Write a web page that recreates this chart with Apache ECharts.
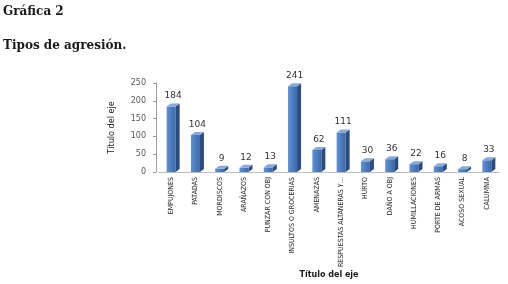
<!DOCTYPE html>
<html>
<head>
<meta charset="utf-8">
<script src="https://cdn.jsdelivr.net/npm/echarts@6/dist/echarts.min.js"></script>
<style>
  html, body { margin: 0; padding: 0; background: #fff; }
  #chart { width: 508px; height: 284px; }
</style>
</head>
<body>
<div id="chart"></div>
<script>
const categories = ['EMPUJONES', 'PATADAS', 'MORDISCOS', 'ARAÑAZOS', 'PUNZAR CON OBJ',
  'INSULTOS O GROCERIAS', 'AMENAZAS', 'RESPUESTAS ALTANERAS Y…', 'HURTO', 'DAÑO A OBJ',
  'HUMILLACIONES', 'PORTE DE ARMAS', 'ACOSO SEXUAL', 'CALUMNIA']
const values = [184, 104, 9, 12, 13, 241, 62, 111, 30, 36, 22, 16, 8, 33]
const yTicks = [0, 50, 100, 150, 200, 250]

const narrow = '"Liberation Sans Narrow", "DejaVu Sans Condensed", "Liberation Sans"'

let myChart = echarts.init(document.getElementById('chart'))

// 3D-looking column: front face, side and top
function renderBar(params, api) {
  let top = api.coord([api.value(0), api.value(1)])
  let base = api.coord([api.value(0), 0])
  let w = 9, d = 4, h = 3
  let x0 = top[0] - w / 2, x1 = top[0] + w / 2
  let yt = top[1], yb = base[1]
  return {
    type: 'group',
    children: [
      {
        type: 'rect',
        shape: { x: x0, y: yt, width: w, height: yb - yt },
        style: {
          fill: new echarts.graphic.LinearGradient(0, 0, 1, 0, [
            { offset: 0, color: '#5e90d2' },
            { offset: 1, color: '#3c6aab' }
          ])
        }
      },
      {
        type: 'polygon',
        shape: { points: [[x1, yt], [x1 + d, yt - h], [x1 + d, yb - h], [x1, yb]] },
        style: { fill: '#2b4c80' }
      },
      {
        type: 'polygon',
        shape: { points: [[x0, yt], [x0 + d, yt - h], [x1 + d, yt - h], [x1, yt]] },
        style: { fill: '#86aadc' }
      },
      {
        type: 'text',
        style: {
          text: String(api.value(1)),
          x: top[0] + 2,
          y: yt - h - 3,
          align: 'center',
          verticalAlign: 'bottom',
          fill: '#333',
          font: '9px "DejaVu Sans"'
        }
      }
    ]
  }
}

let option = {
  backgroundColor: '#fff',
  animation: false,
  title: [
    {
      text: 'Gráfica 2',
      left: 3, top: 6, padding: 0,
      textStyle: { fontFamily: 'DejaVu Serif', fontWeight: 'bold', fontSize: 12, color: '#1a1a1a' }
    },
    {
      text: 'Tipos de agresión.',
      left: 3, top: 40, padding: 0,
      textStyle: { fontFamily: 'DejaVu Serif', fontWeight: 'bold', fontSize: 12, color: '#1a1a1a' }
    }
  ],
  grid: { left: 159, right: 9, top: 83, bottom: 112, outerBoundsMode: 'none', containLabel: false },
  xAxis: {
    type: 'category',
    data: categories,
    name: 'Título del eje',
    nameLocation: 'middle',
    nameGap: 78,
    nameTextStyle: { fontFamily: 'DejaVu Sans', fontWeight: 'bold', fontSize: 8, color: '#1a1a1a' },
    axisLine: { lineStyle: { color: '#bfbfbf' } },
    axisTick: { show: false },
    axisLabel: {
      interval: 0,
      rotate: 90,
      margin: 5,
      fontFamily: narrow,
      fontSize: 7,
      color: '#262626'
    }
  },
  yAxis: {
    type: 'value',
    min: 0,
    max: 250,
    interval: 50,
    offset: 3,
    name: 'Título del eje',
    nameLocation: 'middle',
    nameGap: 40,
    nameTextStyle: { fontFamily: narrow, fontSize: 9, color: '#1a1a1a' },
    axisLine: { show: true, lineStyle: { color: '#9f9f9f' } },
    axisTick: { show: true, length: 3, lineStyle: { color: '#9f9f9f' } },
    splitLine: { show: false },
    axisLabel: {
      margin: 10,
      fontFamily: 'DejaVu Sans',
      fontSize: 8,
      color: '#595959',
      formatter: v => yTicks.indexOf(v) >= 0 ? String(v) : ''
    }
  },
  series: [{
    type: 'custom',
    renderItem: renderBar,
    encode: { x: 0, y: 1 },
    data: values.map((v, i) => [i, v])
  }]
}
myChart.setOption(option)
</script>
</body>
</html>
